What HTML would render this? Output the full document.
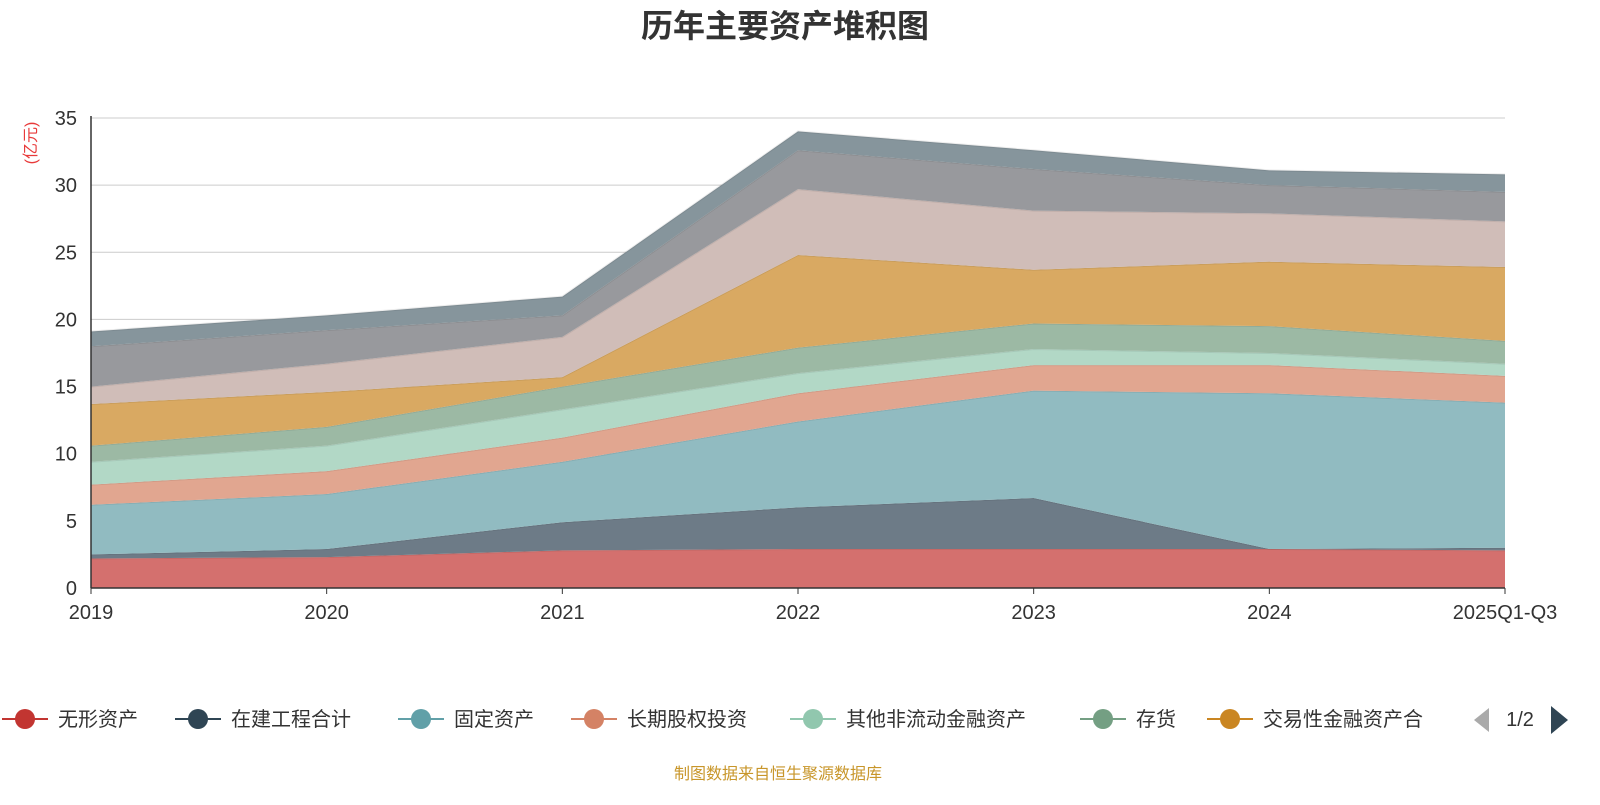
<!DOCTYPE html>
<html><head><meta charset="utf-8">
<style>
body{margin:0;background:#fff;width:1600px;height:800px;overflow:hidden;font-family:"Liberation Sans","Noto Sans CJK SC",sans-serif;}
</style></head>
<body>
<svg id="chart" width="1600" height="800" xmlns="http://www.w3.org/2000/svg">
<text x="785" y="37" text-anchor="middle" font-size="32" font-weight="bold" fill="#333" font-family="Liberation Sans, Noto Sans CJK SC, sans-serif">历年主要资产堆积图</text>
<text transform="translate(36,143) rotate(-90)" text-anchor="middle" font-size="16" fill="#e83a3a" font-family="Liberation Sans, Noto Sans CJK SC, sans-serif">(亿元)</text>
<g id="grid"></g><g id="areas"></g><g id="axes"></g><g id="legend"></g>
<text x="778" y="779" text-anchor="middle" font-size="16" fill="#c8962a" font-family="Liberation Sans, Noto Sans CJK SC, sans-serif">制图数据来自恒生聚源数据库</text>
</svg>
<script>
const categories=["2019","2020","2021","2022","2023","2024","2025Q1-Q3"];
const yTicks=[0,5,10,15,20,25,30,35];
const s1=[2.2,2.3,2.8,2.9,2.9,2.9,2.8];
const s2=[0.3,0.6,2.1,3.1,3.8,0.0,0.2];
const s3=[3.7,4.1,4.5,6.4,8.0,11.6,10.8];
const s4=[1.5,1.7,1.8,2.1,1.9,2.1,2.0];
const s5=[1.7,1.9,2.1,1.5,1.2,0.9,0.9];
const s6=[1.2,1.4,1.7,1.9,1.9,2.0,1.7];
const s7=[3.1,2.6,0.7,6.9,4.0,4.8,5.5];
const s8=[1.3,2.1,3.0,4.9,4.4,3.6,3.4];
const s9=[3.0,2.5,1.6,2.9,3.1,2.1,2.2];
const s10=[1.1,1.1,1.4,1.4,1.4,1.1,1.3];
const seriesNames=["无形资产","在建工程合计","固定资产","长期股权投资","其他非流动金融资产","存货","交易性金融资产合计","应收账款","货币资金","其他"];
const series=[s1,s2,s3,s4,s5,s6,s7,s8,s9,s10];
const fills=["#d4706e","#6d7b87","#91bbc1","#e1a690","#b2d8c6","#9cb9a4","#d9a962","#d0bdb8","#98999d","#86959c"];
const legendColors=["#c23531","#2f4554","#61a0a8","#d48265","#91c7ae","#749f83","#ca8622"];
const NS="http://www.w3.org/2000/svg";
const x0=91,x1=1505,yb=588,yt=118,ymax=35;
const xs=i=>x0+i*(x1-x0)/(categories.length-1);
const ys=v=>yb-v*(yb-yt)/ymax;
function mk(t,a,p){const e=document.createElementNS(NS,t);for(const k in a)e.setAttribute(k,a[k]);p.appendChild(e);return e;}
const grid=document.getElementById('grid'),areas=document.getElementById('areas'),axes=document.getElementById('axes'),legend=document.getElementById('legend');
yTicks.forEach(t=>{
 if(t>0){const l=mk('line',{x1:x0,x2:x1,y1:ys(t),y2:ys(t),stroke:'#ccc','stroke-width':1},grid);
 
 }
 const tx=mk('text',{x:x0-14,y:ys(t)+7,'text-anchor':'end','font-size':20,fill:'#333'},axes);tx.textContent=t;
 
 
});
let base=categories.map(()=>0);
series.forEach((s,k)=>{
 const top=base.map((b,i)=>b+s[i]);
 let d='M'+top.map((v,i)=>xs(i)+','+ys(v)).join('L');
 for(let i=categories.length-1;i>=0;i--)d+='L'+xs(i)+','+ys(base[i]);
 const p=mk('path',{d:d+'Z',fill:fills[k],stroke:'none'},areas);
 
 
 const ln=mk('polyline',{points:top.map((v,i)=>xs(i)+','+ys(v)).join(' '),fill:'none',stroke:'rgba(0,0,0,0.07)','stroke-width':2},areas);
 
 
 base=top;
});
const ax=mk('line',{x1:x0,x2:x1,y1:yb,y2:yb,stroke:'#333','stroke-width':1.5},axes);


const ay=mk('line',{x1:x0,x2:x0,y1:yt-2,y2:yb,stroke:'#333','stroke-width':1.5},axes);


categories.forEach((c,i)=>{
 const tk=mk('line',{x1:xs(i),x2:xs(i),y1:yb,y2:yb+6,stroke:'#333'},axes);
 
 
 const tx=mk('text',{x:xs(i),y:619,'text-anchor':'middle','font-size':20,fill:'#333'},axes);tx.textContent=c;
 
 
});
const lx=[25,198,421,594,813,1103,1230];
for(let k=0;k<7;k++){
 const g=mk('g',{},legend);
 
 
 mk('line',{x1:lx[k]-23,x2:lx[k]+23,y1:719,y2:719,stroke:legendColors[k],'stroke-width':2},g);
 mk('circle',{cx:lx[k],cy:719,r:10,fill:legendColors[k]},g);
 const t=mk('text',{x:lx[k]+33,y:726,'font-size':20,fill:'#333'},g);t.textContent=k==6?"交易性金融资产合":seriesNames[k];
}
const pl=mk('path',{d:'M1489,708L1489,732L1474,720Z',fill:'#aaa'},legend);


const pt=mk('text',{x:1520,y:726,'text-anchor':'middle','font-size':20,fill:'#333'},legend);pt.textContent='1/2';


const pn=mk('path',{d:'M1551,706L1551,734L1568,720Z',fill:'#2f4554'},legend);


</script>
</body></html>
